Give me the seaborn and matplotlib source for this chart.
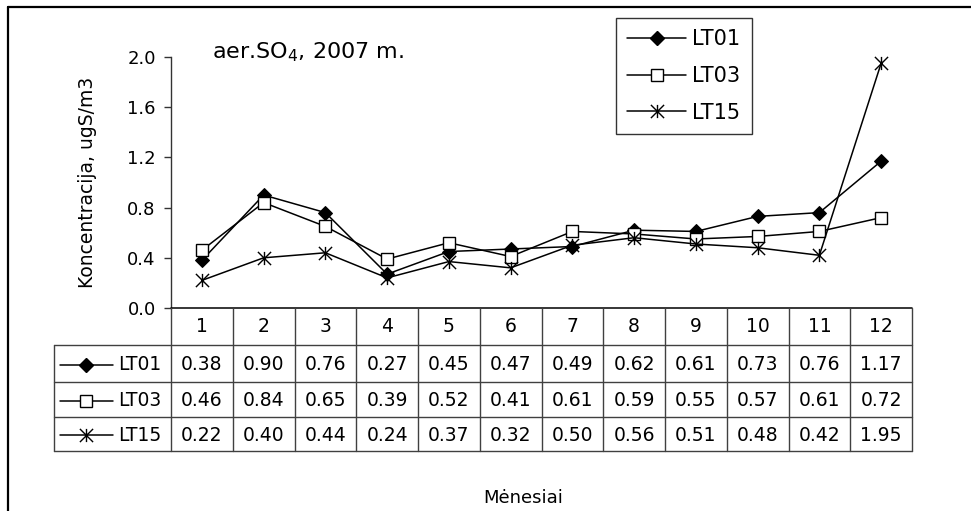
import numpy as np
import pandas as pd
import matplotlib
matplotlib.use("Agg")
import matplotlib.pyplot as plt
from matplotlib.path import Path
from matplotlib.lines import Line2D
import seaborn as sns

# ---- data ----
months = [1, 2, 3, 4, 5, 6, 7, 8, 9, 10, 11, 12]
lt01 = [0.38, 0.90, 0.76, 0.27, 0.45, 0.47, 0.49, 0.62, 0.61, 0.73, 0.76, 1.17]
lt03 = [0.46, 0.84, 0.65, 0.39, 0.52, 0.41, 0.61, 0.59, 0.55, 0.57, 0.61, 0.72]
lt15 = [0.22, 0.40, 0.44, 0.24, 0.37, 0.32, 0.50, 0.56, 0.51, 0.48, 0.42, 1.95]
series_names = ["LT01", "LT03", "LT15"]
yticks = [0.0, 0.4, 0.8, 1.2, 1.6, 2.0]
title = "aer.SO$_4$, 2007 m."
ylabel = "Koncentracija, ugS/m3"
xlabel = "Mėnesiai"

sns.set_theme(style="white")
plt.rcParams["font.family"] = ["DejaVu Sans"]
plt.rcParams["mathtext.fontset"] = "dejavusans"
plt.rcParams["text.color"] = "black"
plt.rcParams["axes.labelcolor"] = "black"
plt.rcParams["ytick.color"] = "black"
plt.rcParams["xtick.color"] = "black"

W, H = 971, 511
fig = plt.figure(figsize=(W / 100, H / 100), dpi=100)

def fx(px):
    return px / W

def fy(py):
    return 1 - py / H

# frame (top and left edges visible)
fig.add_artist(Line2D([fx(8), fx(8)], [fy(7), 0], transform=fig.transFigure, color="black", lw=1.6))
fig.add_artist(Line2D([fx(8), 1], [fy(7), fy(7)], transform=fig.transFigure, color="black", lw=1.6))

# main axes
L, R, T, B = 171, 912, 57, 308
ax = fig.add_axes([fx(L), fy(B), fx(R - L), (B - T) / H])

star = Path([(0, -1), (0, 1), (-1, -1), (1, 1), (-1, 1), (1, -1)],
            [Path.MOVETO, Path.LINETO, Path.MOVETO, Path.LINETO, Path.MOVETO, Path.LINETO])
styles = {
    "LT01": dict(marker="D", markersize=7.5, markerfacecolor="black", markeredgecolor="black"),
    "LT03": dict(marker="s", markersize=8, markerfacecolor="white", markeredgecolor="black", markeredgewidth=1.0),
    "LT15": dict(marker=star, markersize=9.5, markerfacecolor="none", markeredgecolor="black", markeredgewidth=1.0),
}
df = pd.DataFrame({"month": months * 3,
                   "value": lt01 + lt03 + lt15,
                   "series": sum([[n] * len(months) for n in series_names], [])})

handles = []
for name in series_names:
    sub = df[df["series"] == name]
    sns.lineplot(data=sub, x="month", y="value", ax=ax, color="black", lw=1.1,
                 label=name, legend=False, clip_on=False, **styles[name])
    handles.append(Line2D([], [], color="black", lw=1.1, **styles[name]))

ax.set_xlim(0.5, 12.5)
ax.set_ylim(0, 2.0)
ax.set_yticks(yticks)
ax.set_yticklabels([f"{v:.1f}" for v in yticks], fontsize=13)
ax.set_xticks([])
ax.set_xlabel("")
ax.set_ylabel(ylabel, fontsize=13.5, labelpad=22)
for s in ["top", "right", "bottom"]:
    ax.spines[s].set_visible(False)
ax.spines["left"].set_color("#333333")
ax.spines["left"].set_linewidth(1)
ax.tick_params(axis="y", left=True, length=5, width=1, color="#333333", pad=6)
ax.patch.set_alpha(0)

fig.text(fx(212), fy(58), title, fontsize=16, ha="left", va="baseline")

leg = fig.legend(handles, series_names, loc="upper left",
                 bbox_to_anchor=(fx(616), fy(18)), frameon=True, fancybox=False,
                 fontsize=15, handlelength=2.8, handletextpad=0.3,
                 labelspacing=0.8, borderpad=0.55, borderaxespad=0)
leg.get_frame().set_edgecolor("black")
leg.get_frame().set_linewidth(1)

# data table
TL, TT, TB = 54, 308, 451
tab = fig.add_axes([fx(TL), fy(TB), fx(R - TL), (TB - TT) / H])
x_left = 0.5 - (L - TL) / ((R - L) / 12)
tab.set_xlim(x_left, 12.5)
tab.set_ylim(TB - TT, 0)
tab.axis("off")
row_edges = [0, 37, 74, 109, 143]
gc = "#404040"
# horizontal lines
tab.plot([0.5, 12.5], [0, 0], color="black", lw=1.1, clip_on=False)
for yv in row_edges[1:]:
    tab.plot([x_left, 12.5], [yv, yv], color=gc, lw=1, clip_on=False)
# vertical lines
for xv in np.arange(0.5, 13, 1.0):
    tab.plot([xv, xv], [0, 143], color=gc, lw=1, clip_on=False)
tab.plot([x_left, x_left], [37, 143], color=gc, lw=1, clip_on=False)

for m in months:
    tab.text(m, 18.5, str(m), ha="center", va="center", fontsize=13.5)
px_unit = (R - L) / 12
for i, (name, vals) in enumerate(zip(series_names, [lt01, lt03, lt15])):
    yc = (row_edges[i + 1] + row_edges[i + 2]) / 2
    for m, v in zip(months, vals):
        tab.text(m, yc + 1, f"{v:.2f}", ha="center", va="center", fontsize=13.5)
    x0 = x_left + 6 / px_unit
    x1 = x_left + 59 / px_unit
    xm = x_left + 32 / px_unit
    tab.plot([x0, x1], [yc + 1, yc + 1], color="black", lw=1.1)
    tab.plot([xm], [yc + 1], color="black", **styles[name])
    tab.text(x_left + 64 / px_unit, yc + 1, name, ha="left", va="center", fontsize=13.5)

fig.text(fx(523), fy(498), xlabel, fontsize=13, ha="center", va="center")

fig.savefig("out.png", dpi=100, facecolor="white")
